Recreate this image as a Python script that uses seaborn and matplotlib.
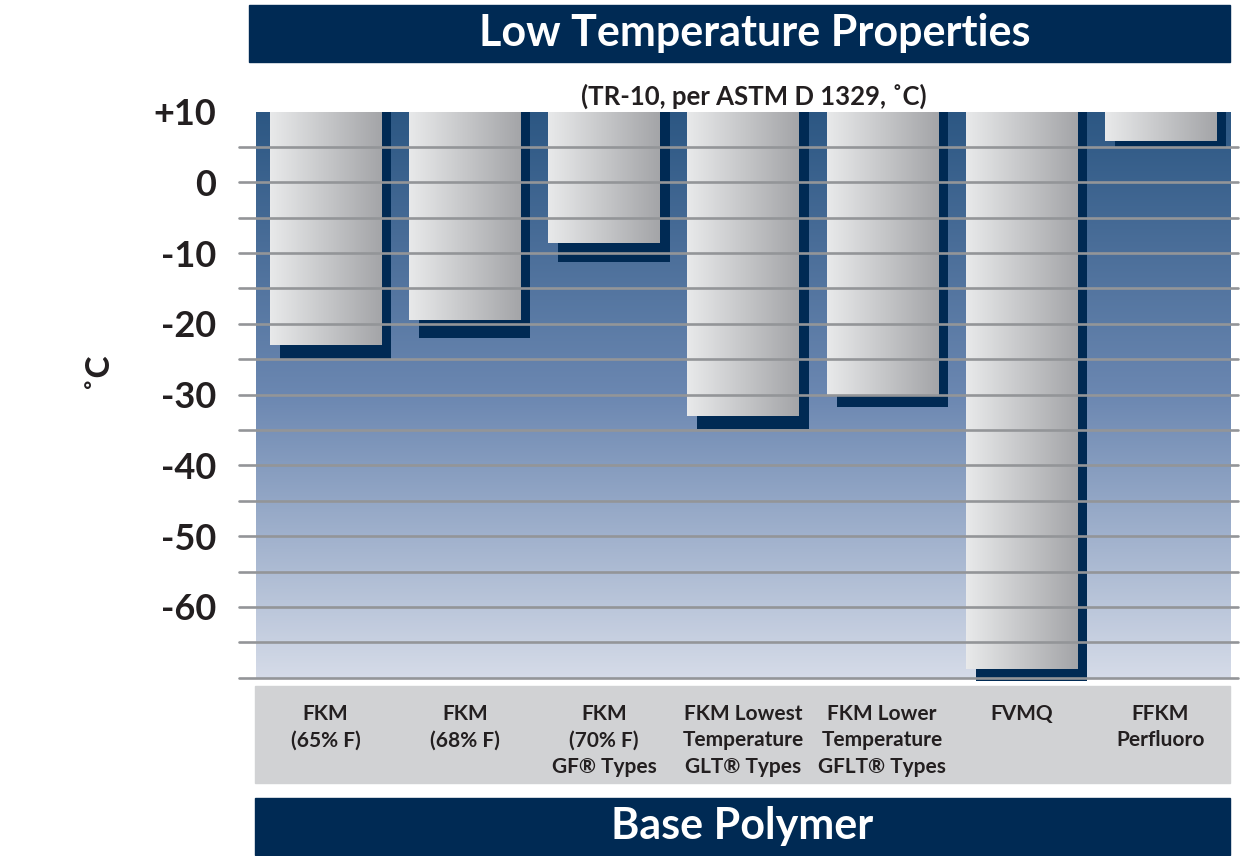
import numpy as np
import matplotlib
matplotlib.use("Agg")
import matplotlib.pyplot as plt
import seaborn as sns
from matplotlib.colors import LinearSegmentedColormap
from matplotlib.patches import Rectangle
from matplotlib.transforms import ScaledTranslation

# data (TR-10, deg C)
polymers = ["FKM\n(65% F)", "FKM\n(68% F)", "FKM\n(70% F)\nGF® Types",
            "FKM Lowest\nTemperature\nGLT® Types", "FKM Lower\nTemperature\nGFLT® Types",
            "FVMQ", "FFKM\nPerfluoro"]
tr10 = np.array([-23, -19.5, -8.6, -33, -30, -68.8, 5.8])
shadow = np.array([-25, -22, -11.3, -34.8, -31.8, -70.4, 5.0])
y_ticks = [10, 0, -10, -20, -30, -40, -50, -60]
y_ticklabels = ["+10", "0", "-10", "-20", "-30", "-40", "-50", "-60"]

TOP, BOTTOM = 10, -70
NAVY = "#002a54"
TEXT = "#231f20"

sns.set_style("white")
plt.rcParams["font.family"] = ["Lato", "DejaVu Sans"]

fig = plt.figure(figsize=(12.43, 8.56), dpi=100)
ax = fig.add_axes([0.206, 0.2083, 0.7836, 0.6614])

# background gradient
bg_cmap = LinearSegmentedColormap.from_list(
    "bg", [(0, "#2c5783"), (0.5, "#6b87b1"), (1, "#d5dbe8")])
ax.imshow(np.linspace(0, 1, 256).reshape(-1, 1), cmap=bg_cmap, aspect="auto",
          extent=(0, 1, 0, 1), transform=ax.transAxes, zorder=0)

# shadow bars (drawn first, shifted right)
sns.barplot(x=polymers, y=shadow - TOP, bottom=TOP, color=NAVY, saturation=1,
            width=0.8, errorbar=None, ax=ax, zorder=1.5, linewidth=0)
n_shadow = len(ax.patches)
shift = ScaledTranslation(10 / 100, 0, fig.dpi_scale_trans)
for p in ax.patches[:n_shadow]:
    p.set_transform(ax.transData + shift)
    p.set_clip_on(False)

# main bars hanging from the top
sns.barplot(x=polymers, y=tr10 - TOP, bottom=TOP, color="#c6c7c9", saturation=1,
            width=0.8, errorbar=None, ax=ax, zorder=2, linewidth=0)

bar_cmap = LinearSegmentedColormap.from_list("bar", ["#e8e9ea", "#a4a5a8"])
for p in ax.patches[n_shadow:]:
    x0, x1 = p.get_x(), p.get_x() + p.get_width()
    y0, y1 = sorted([p.get_y(), p.get_y() + p.get_height()])
    im = ax.imshow(np.linspace(0, 1, 64).reshape(1, -1), cmap=bar_cmap, aspect="auto",
                   extent=(x0, x1, y0, y1), zorder=3)
    im.set_clip_path(p)

# gridlines every 5 degrees, over the bars
for lvl in np.arange(TOP - 5, BOTTOM - 1, -5):
    ax.axhline(lvl, xmin=-0.017, xmax=1.008, color="#939598", lw=1.9,
               zorder=4, clip_on=False)

ax.set_xlim(-0.5, len(polymers) - 0.5)
ax.set_ylim(BOTTOM, TOP)
for s in ax.spines.values():
    s.set_visible(False)

ax.set_yticks(y_ticks)
ax.set_yticklabels(y_ticklabels, fontsize=26, fontweight="bold", color=TEXT)
ax.tick_params(axis="y", length=0, pad=29)
ax.tick_params(axis="x", length=0, pad=19, labelsize=15, labelcolor=TEXT)
for lbl in ax.get_xticklabels():
    lbl.set_fontweight("bold")
    lbl.set_linespacing(1.4)

ax.set_ylabel("˚C", fontsize=24, fontweight="bold", color=TEXT)
ax.yaxis.set_label_coords(-0.148, 0.543)

# header / footer boxes
fig.patches.append(Rectangle((0.2003, 0.9276), 0.789, 0.0666, transform=fig.transFigure,
                             color=NAVY, zorder=-1))
fig.patches.append(Rectangle((0.2051, 0.0853), 0.7844, 0.1133, transform=fig.transFigure,
                             color="#d1d2d4", zorder=-1))
fig.patches.append(Rectangle((0.2051, 0.0012), 0.7844, 0.0666, transform=fig.transFigure,
                             color=NAVY, zorder=-1))

fig.text(0.607, 0.9609, "Low Temperature Properties", color="white", fontsize=31,
         fontweight="bold", ha="center", va="center")
fig.text(0.6066, 0.8879, "(TR-10, per ASTM D 1329, ˚C)", color=TEXT, fontsize=18.5,
         fontweight="bold", ha="center", va="center")
fig.text(0.597, 0.035, "Base Polymer", color="white", fontsize=31,
         fontweight="bold", ha="center", va="center")

fig.savefig("out.png", dpi=100)
